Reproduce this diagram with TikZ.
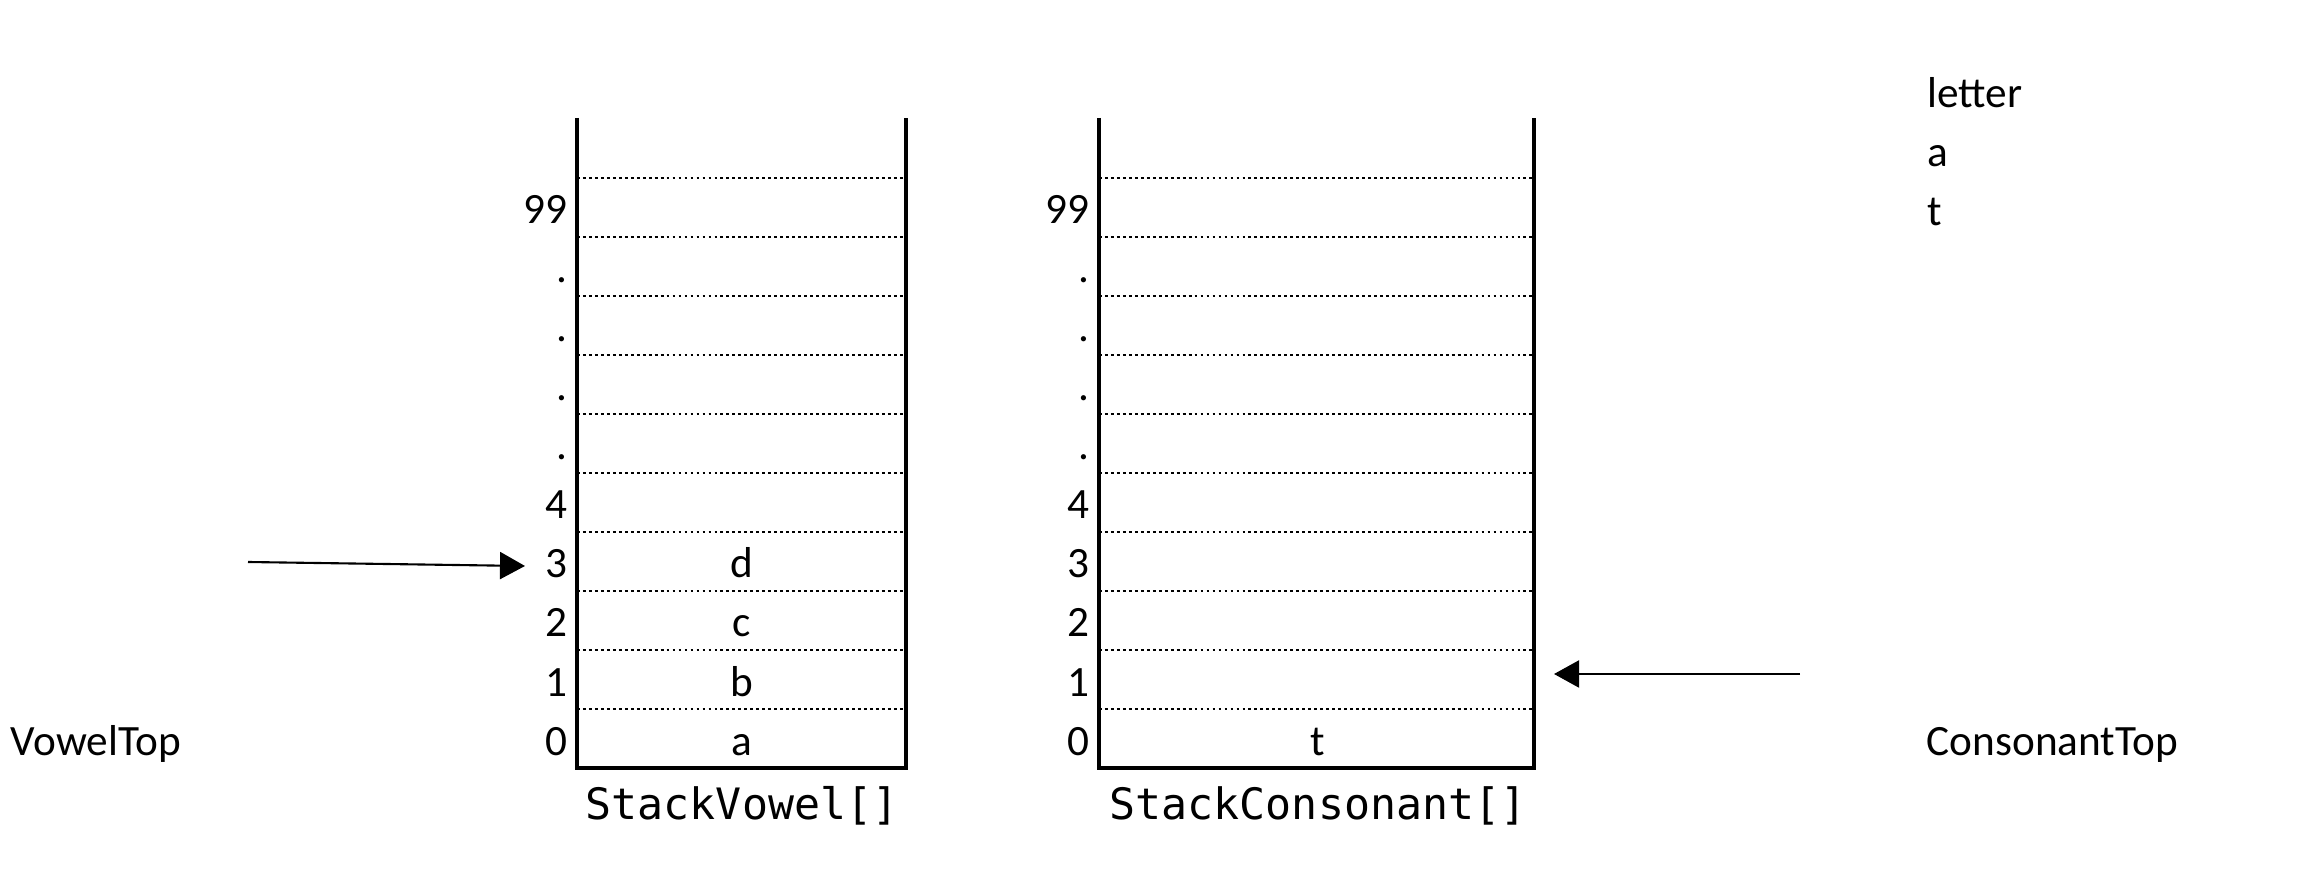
\documentclass[tikz,border=0pt]{standalone}
\usepackage{fontspec}
\setmainfont{Carlito}
\newfontfamily\monof{DejaVu Sans Mono}
\usetikzlibrary{arrows.meta}
\begin{document}
\begin{tikzpicture}[x=0.01cm,y=-0.01cm,
  lbl/.style={font=\fontsize{12.3}{14}\selectfont, inner sep=0pt},
  idx/.style={lbl, anchor=base east},
  cell/.style={lbl, anchor=base},
  freetext/.style={lbl, anchor=base west},
  monolbl/.style={font=\monof\fontsize{12.3}{14}\selectfont, inner sep=0pt, anchor=base},
  wall/.style={line width=1pt},
  sepline/.style={line width=0.75pt, dash pattern=on 0.8pt off 0.9pt},
  ptr/.style={line width=0.6pt, -{Triangle[length=0.25cm,width=0.27cm]}}]
\useasboundingbox (0,0) rectangle (2304,892);

% Stack 1
\draw[wall] (577,118) -- (577,768) -- (906,768) -- (906,118);
\foreach \k in {1,...,10} \draw[sepline] (577,{768-59*\k}) -- (906,{768-59*\k});
\foreach \t [count=\i from 0] in {0,1,2,3,4,{.},{.},{.},{.},99}
  \node[idx] (vi\i) at (568,{755-59*\i}) {\t};
\node[cell] (va) at (742,755) {a};
\node[cell] (vb) at (742,696) {b};
\node[cell] (vc) at (742,637) {c};
\node[cell] (vd) at (742,578) {d};
\node[monolbl] (vname) at (742,819) {StackVowel[]};

% Stack 2
\draw[wall] (1099,118) -- (1099,768) -- (1534,768) -- (1534,118);
\foreach \k in {1,...,10} \draw[sepline] (1099,{768-59*\k}) -- (1534,{768-59*\k});
\foreach \t [count=\i from 0] in {0,1,2,3,4,{.},{.},{.},{.},99}
  \node[idx] (ci\i) at (1090,{755-59*\i}) {\t};
\node[cell] (ct) at (1318,755) {t};
\node[monolbl] (cname) at (1318,819) {StackConsonant[]};

% Free texts
\node[freetext] (vtop) at (10,755) {VowelTop};
\node[freetext] (ctop) at (1926,755) {ConsonantTop};
\node[freetext] (letter) at (1927,108) {letter};
\node[freetext] (la) at (1927,167) {a};
\node[freetext] (lt) at (1927,226) {t};

% Pointers
\coordinate (vs) at (248,562);
\coordinate (ve) at (525,566);
\draw[ptr] (vs) -- (ve);
\coordinate (cs) at (1800,674);
\coordinate (ce) at (1554,674);
\draw[ptr] (cs) -- (ce);
\end{tikzpicture}
\end{document}
